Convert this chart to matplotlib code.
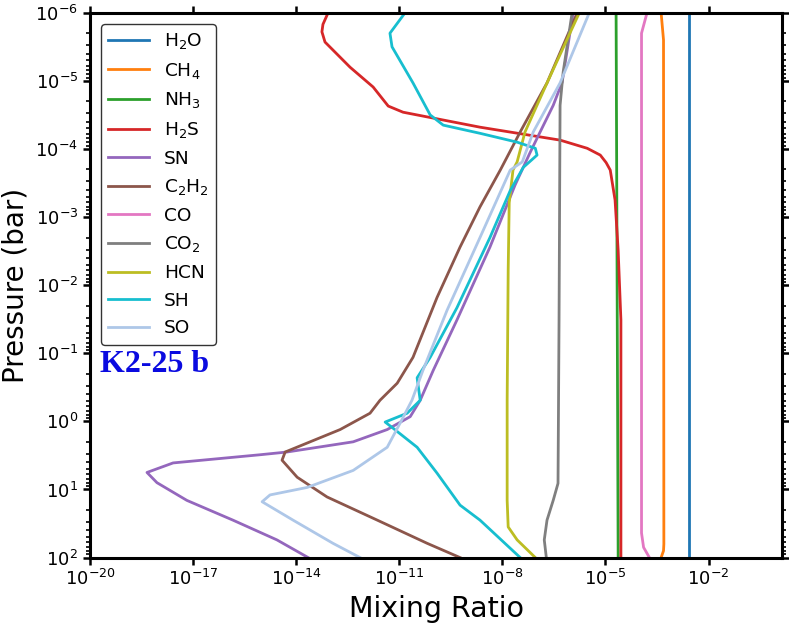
import matplotlib
matplotlib.use("Agg")
import matplotlib.pyplot as plt
import numpy as np
from matplotlib.ticker import NullLocator, LogLocator

# valores: log10(mixing ratio) y log10(presion en bar)
h2o_x = [-2.58, -2.58]
h2o_p = [-6.0, 2.0]

ch4_x = [-3.38, -3.31, -3.30, -3.31, -3.38]
ch4_p = [-6.0, -5.6, 1.8, 1.9, 2.0]

nh3_x = [-4.69, -4.66, -4.63]
nh3_p = [-6.0, -2.0, 2.0]

h2s_x = [-13.07, -13.22, -13.25, -13.16, -12.43, -11.76, -11.32, -10.89, -8.65, -6.32, -5.53,
         -5.15, -4.98, -4.86, -4.72, -4.63, -4.55, -4.55]
h2s_p = [-6.0, -5.83, -5.72, -5.57, -5.20, -4.91, -4.63, -4.54, -4.32, -4.13, -4.01,
         -3.91, -3.80, -3.69, -3.25, -2.51, -1.49, 2.0]

sn_x = [-5.94, -6.26, -6.52, -6.90, -7.19, -7.63, -8.36, -9.32, -10.01, -10.39, -10.68, -11.35,
        -12.34, -14.27, -15.05, -17.58, -18.34, -18.05, -17.18, -15.84, -14.56, -13.65]
sn_p = [-6.0, -4.98, -4.64, -4.25, -3.95, -3.47, -2.56, -1.49, -0.75, -0.31, -0.07, 0.12,
        0.30, 0.45, 0.49, 0.61, 0.75, 0.90, 1.16, 1.45, 1.74, 2.0]

c2h2_x = [-5.82, -6.70, -7.48, -8.06, -8.65, -9.23, -9.90, -10.60, -11.06, -11.56, -11.85, -12.72,
          -14.32, -14.41, -13.97, -13.10, -11.64, -10.19, -9.23]
c2h2_p = [-6.0, -4.97, -4.25, -3.69, -3.15, -2.56, -1.82, -0.94, -0.56, -0.31, -0.12, 0.12,
          0.45, 0.57, 0.82, 1.11, 1.45, 1.79, 2.0]

co_x = [-3.79, -3.95, -3.95, -3.89, -3.72]
co_p = [-6.0, -5.7, 1.64, 1.85, 2.0]

co2_x = [-5.97, -6.23, -6.32, -6.35, -6.38, -6.52, -6.70, -6.78, -6.72]
co2_p = [-6.0, -5.13, -4.64, -1.49, 0.91, 1.16, 1.45, 1.74, 2.0]

hcn_x = [-5.76, -6.70, -7.34, -7.57, -7.69, -7.80, -7.83, -7.86, -7.86, -7.83, -7.57, -7.04]
hcn_p = [-6.0, -4.97, -4.25, -3.81, -3.69, -3.21, -2.22, -0.31, 1.16, 1.55, 1.74, 2.0]

sh_x = [-10.83, -11.27, -11.21, -10.60, -10.10, -9.72, -8.65, -7.57, -7.04, -6.99, -7.39, -7.77,
        -8.36, -9.32, -10.10, -10.48, -10.39, -10.77, -11.41, -11.18, -10.48, -9.90, -9.23, -8.65, -7.48]
sh_p = [-6.0, -5.70, -5.50, -4.97, -4.50, -4.35, -4.23, -4.10, -4.01, -3.91, -3.73, -3.39,
        -2.70, -1.67, -0.94, -0.64, -0.31, -0.12, 0.01, 0.10, 0.38, 0.76, 1.23, 1.45, 2.0]

so_x = [-5.47, -6.32, -7.10, -7.42, -7.77, -8.65, -9.61, -10.31, -10.63, -10.98, -11.35, -12.34,
        -13.68, -14.76, -14.99, -14.09, -12.93, -12.14]
so_p = [-6.0, -4.97, -4.25, -3.81, -3.69, -2.70, -1.63, -0.75, -0.31, 0.03, 0.38, 0.72,
        0.97, 1.08, 1.18, 1.45, 1.79, 2.0]

especies = ["H$_2$O", "CH$_4$", "NH$_3$", "H$_2$S", "SN", "C$_2$H$_2$", "CO", "CO$_2$", "HCN", "SH", "SO"]
datos = [(h2o_x, h2o_p), (ch4_x, ch4_p), (nh3_x, nh3_p), (h2s_x, h2s_p), (sn_x, sn_p),
         (c2h2_x, c2h2_p), (co_x, co_p), (co2_x, co2_p), (hcn_x, hcn_p), (sh_x, sh_p), (so_x, so_p)]
colores = ["#1f77b4", "#ff7f0e", "#2ca02c", "#d62728", "#9467bd", "#8c564b",
           "#e377c2", "#7f7f7f", "#bcbd22", "#17becf", "#aec7e8"]

fig = plt.figure(figsize=(7.89, 6.23), dpi=100)
ax = fig.add_axes([0.114, 0.105, 0.8775, 0.8745])

for nombre, (xs, ps), c in zip(especies, datos, colores):
    ax.plot(10 ** np.array(xs), 10 ** np.array(ps), color=c, lw=2, label=nombre)

ax.set_xscale("log")
ax.set_yscale("log")
ax.set_xlim(1e-20, 1.4)
ax.set_ylim(1e2, 1e-6)
ax.set_xticks([1e-20, 1e-17, 1e-14, 1e-11, 1e-8, 1e-5, 1e-2])
ax.xaxis.set_minor_locator(NullLocator())
ax.yaxis.set_major_locator(LogLocator(base=10, numticks=20))
ax.yaxis.set_minor_locator(LogLocator(base=10, subs=np.arange(2, 10), numticks=20))

for s in ax.spines.values():
    s.set_linewidth(2.2)
ax.tick_params(which="major", length=5, width=1.8, labelsize=13, top=True, right=True)
ax.tick_params(which="minor", length=3, width=1.2, top=True, right=True)

ax.set_xlabel("Mixing Ratio", fontsize=20.5)
ax.set_ylabel("Pressure (bar)", fontsize=20)

ax.legend(loc="upper left", fontsize=13.3, handlelength=2.2, labelspacing=0.52,
          borderaxespad=0.6, frameon=True, edgecolor="black")

ax.text(0.014, 0.355, "K2-25 b", transform=ax.transAxes, fontsize=23, fontweight="bold",
        family="Liberation Serif", color="#0a0ae0", va="center", ha="left")

fig.savefig("out.png", dpi=100)
